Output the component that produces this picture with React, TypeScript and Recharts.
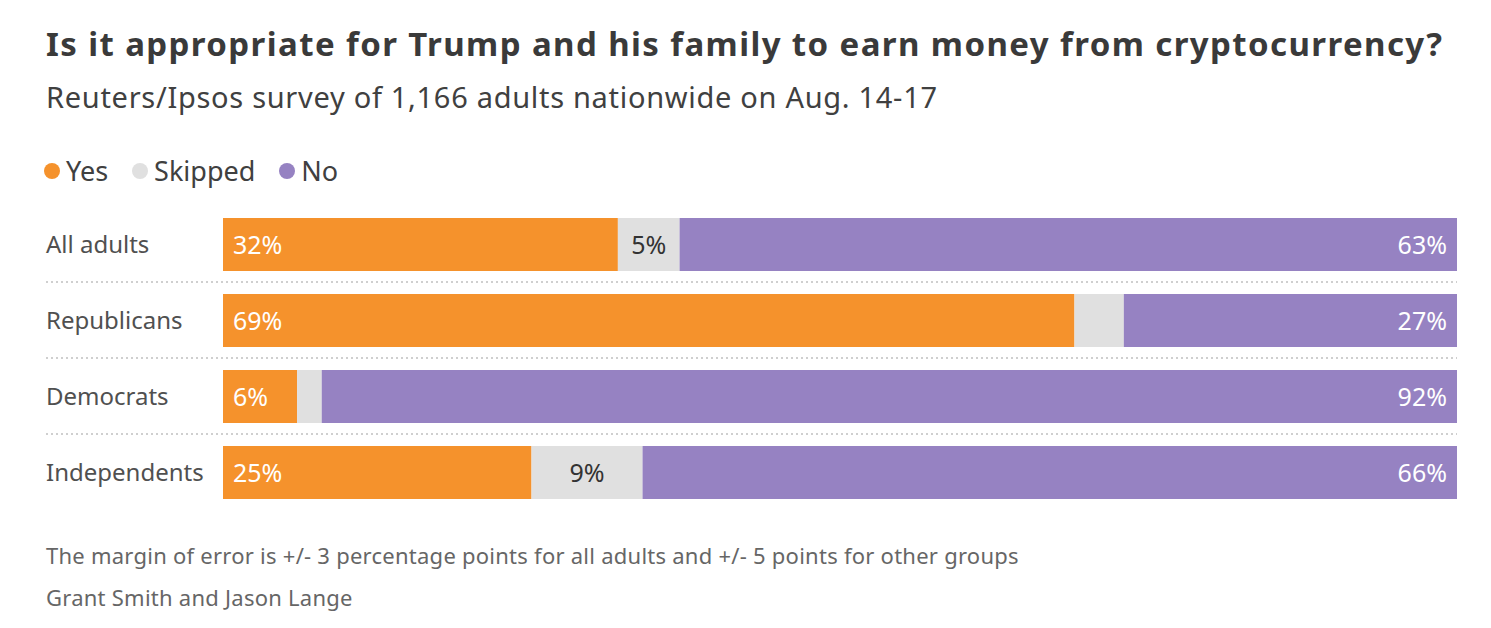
import React from 'react';
import { BarChart, Bar, XAxis, YAxis, LabelList } from 'recharts';

// Survey shares in percent
const groups = ['All adults', 'Republicans', 'Democrats', 'Independents'];
const yesValues = [32, 69, 6, 25];
const skippedValues = [5, 4, 2, 9];
const noValues = [63, 27, 92, 66];

const seriesKeys = ['Yes', 'Skipped', 'No'];
const seriesColors = ['#f5922c', '#e0e0e0', '#9682c2'];

const data = groups.map((name, i) => ({
  name,
  Yes: yesValues[i],
  Skipped: skippedValues[i],
  No: noValues[i],
}));

const FONT = '"Noto Sans", "Open Sans", sans-serif';
const TEXT = '#404040';

const GroupTick = (props: any) => {
  const { y, payload, index } = props;
  const last = index === groups.length - 1;
  return (
    <g>
      <text x={46} y={y} dy={9} fontSize={24} fill="#505050" fontFamily={FONT} textAnchor="start">
        {payload.value}
      </text>
      {!last && (
        <line
          x1={46}
          x2={1457}
          y1={y + 38}
          y2={y + 38}
          stroke="#cfcfcf"
          strokeWidth={2}
          strokeDasharray="2 3"
        />
      )}
    </g>
  );
};

const makeLabel = (align: 'start' | 'middle' | 'end', color: string) => (props: any) => {
  const { x, y, width, height, value } = props;
  if (value < 5) return null;
  const tx = align === 'start' ? x + 10 : align === 'end' ? x + width - 10 : x + width / 2;
  return (
    <text
      x={tx}
      y={y + height / 2}
      dy={9}
      fontSize={25}
      fill={color}
      fontFamily={FONT}
      textAnchor={align}
    >
      {value}%
    </text>
  );
};

export default function App() {
  return (
    <div
      style={{
        position: 'absolute',
        left: 0,
        top: 0,
        width: 1491,
        height: 628,
        background: '#fff',
        fontFamily: FONT,
        color: TEXT,
        overflow: 'hidden',
      }}
    >
      <div
        style={{
          position: 'absolute',
          left: 46,
          top: 23,
          fontSize: 33,
          fontWeight: 700,
          letterSpacing: 1.4,
          lineHeight: '42px',
          color: '#3a3a3a',
          whiteSpace: 'nowrap',
        }}
      >
        Is it appropriate for Trump and his family to earn money from cryptocurrency?
      </div>
      <div
        style={{
          position: 'absolute',
          left: 46,
          top: 78,
          fontSize: 29,
          letterSpacing: 0.7,
          lineHeight: '38px',
          color: TEXT,
          whiteSpace: 'nowrap',
        }}
      >
        Reuters/Ipsos survey of 1,166 adults nationwide on Aug. 14-17
      </div>
      <div
        style={{
          position: 'absolute',
          left: 44,
          top: 152,
          display: 'flex',
          alignItems: 'center',
          fontSize: 27,
          lineHeight: '38px',
          color: TEXT,
        }}
      >
        {seriesKeys.map((k, i) => (
          <div key={k} style={{ display: 'flex', alignItems: 'center', marginRight: 24 }}>
            <span
              style={{
                width: 16,
                height: 16,
                borderRadius: 8,
                background: seriesColors[i],
                display: 'inline-block',
                marginRight: 6,
              }}
            />
            <span>{k}</span>
          </div>
        ))}
      </div>
      <div style={{ position: 'absolute', left: 0, top: 0 }}>
        <BarChart
          width={1491}
          height={628}
          data={data}
          layout="vertical"
          margin={{ top: 206, right: 34, bottom: 118, left: 46 }}
          barSize={53}
        >
          <XAxis type="number" domain={[0, 100]} hide />
          <YAxis
            type="category"
            dataKey="name"
            width={177}
            axisLine={false}
            tickLine={false}
            tick={<GroupTick />}
          />
          {seriesKeys.map((k, i) => (
            <Bar key={k} dataKey={k} stackId="a" fill={seriesColors[i]} isAnimationActive={false}>
              <LabelList
                dataKey={k}
                content={makeLabel(
                  i === 0 ? 'start' : i === 1 ? 'middle' : 'end',
                  i === 1 ? '#333' : '#fff'
                )}
              />
            </Bar>
          ))}
        </BarChart>
      </div>
      <div
        style={{
          position: 'absolute',
          left: 46,
          top: 540,
          fontSize: 22,
          letterSpacing: 0.25,
          lineHeight: '30px',
          color: '#666',
          whiteSpace: 'nowrap',
        }}
      >
        The margin of error is +/- 3 percentage points for all adults and +/- 5 points for other groups
      </div>
      <div
        style={{
          position: 'absolute',
          left: 46,
          top: 582,
          fontSize: 22,
          letterSpacing: 0.25,
          lineHeight: '30px',
          color: '#666',
          whiteSpace: 'nowrap',
        }}
      >
        Grant Smith and Jason Lange
      </div>
    </div>
  );
}
